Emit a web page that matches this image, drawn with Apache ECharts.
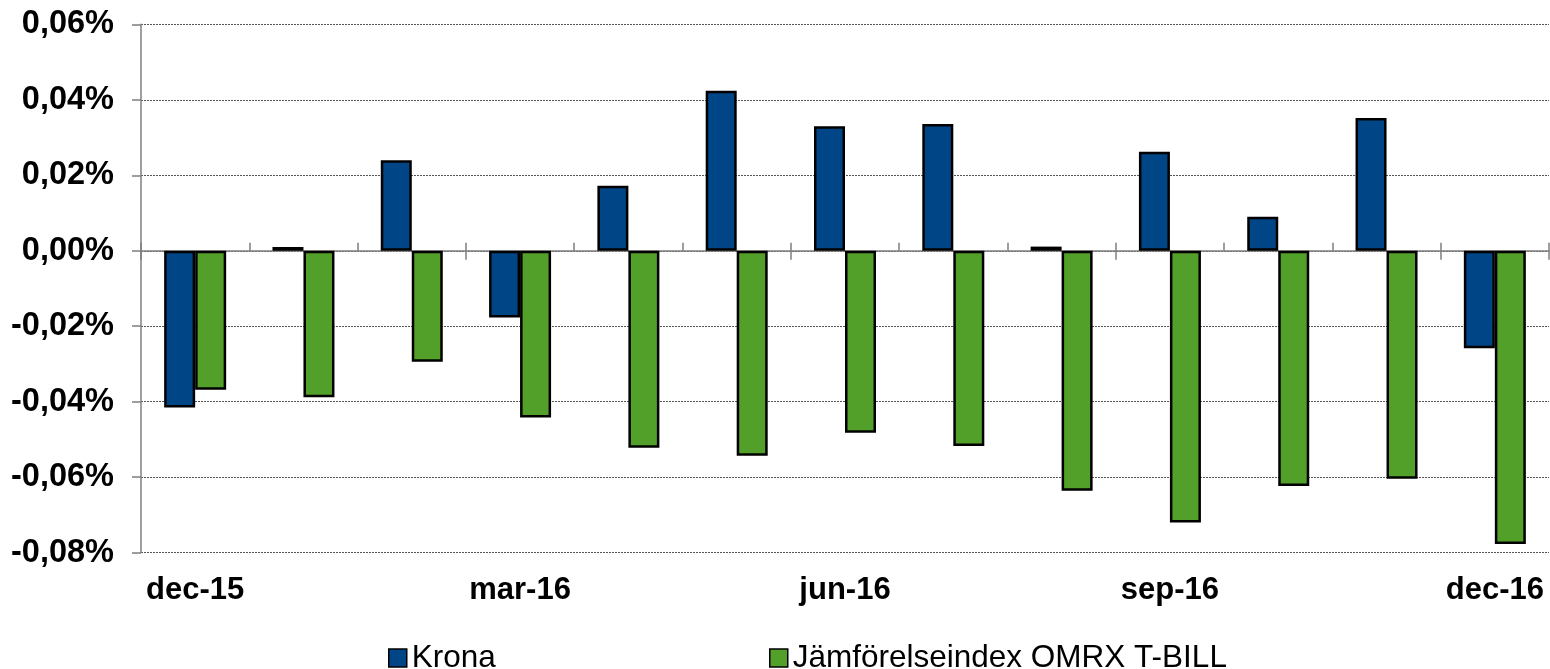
<!DOCTYPE html>
<html>
<head>
<meta charset="utf-8">
<script src="https://cdn.jsdelivr.net/npm/echarts/dist/echarts.min.js"></script>
<style>
html,body{margin:0;padding:0;background:#fff;}
#chart{width:1550px;height:669px;}
</style>
</head>
<body>
<div id="chart"></div>
<script>
var categories = ['dec-15','jan-16','feb-16','mar-16','apr-16','maj-16','jun-16','jul-16','aug-16','sep-16','okt-16','nov-16','dec-16'];
var krona = [-0.0415, 0.0010, 0.0240, -0.0177, 0.0172, 0.0424, 0.0330, 0.0336, 0.0011, 0.0262, 0.0090, 0.0352, -0.0258];
var omrx = [-0.0368, -0.0388, -0.0294, -0.0442, -0.0522, -0.0543, -0.0482, -0.0517, -0.0636, -0.0720, -0.0623, -0.0604, -0.0777];
var seriesNames = ['Krona', 'Jämförelseindex OMRX T-BILL'];
var yMin = -0.08, yMax = 0.06, yStep = 0.02;

var FONT = '"Liberation Sans", Arial, Helvetica, sans-serif';
var chart = echarts.init(document.getElementById('chart'), null, {renderer: 'canvas'});

function fmt(v) {
  var s = Math.abs(v) < 1e-9 ? '0,00' : v.toFixed(2).replace('.', ',');
  return s + '%';
}

var legendCommon = {
  top: 637,
  icon: 'rect', itemWidth: 18, itemHeight: 18,
  itemStyle: {borderColor: '#000', borderWidth: 1.5},
  textStyle: {fontFamily: FONT, fontSize: 31.5, color: '#000'}
};

var option = {
  backgroundColor: '#ffffff',
  animation: false,
  grid: {
    left: 141, right: 1, top: 24.3, bottom: 116.3,
    containLabel: false, outerBoundsMode: 'none'
  },
  legend: [
    Object.assign({data: [seriesNames[0]], left: 383}, legendCommon),
    Object.assign({data: [seriesNames[1]], left: 764}, legendCommon)
  ],
  xAxis: [
    {
      type: 'category', data: categories, position: 'bottom',
      axisLine: {show: false, onZero: false},
      axisTick: {show: false},
      axisLabel: {
        interval: 2, margin: 22,
        fontFamily: FONT, fontSize: 31, fontWeight: 'bold', color: '#000'
      },
      splitLine: {show: false}
    },
    {
      type: 'category', data: categories, position: 'bottom',
      axisLine: {show: true, onZero: true, onZeroAxisIndex: 0, lineStyle: {color: '#7f7f7f', width: 1.5}},
      axisTick: {show: true, inside: true, interval: 0, length: 8, lineStyle: {color: '#7f7f7f', width: 1.5}},
      axisLabel: {show: false},
      splitLine: {show: false}
    },
    {
      type: 'category', data: categories, position: 'bottom',
      axisLine: {show: true, onZero: true, onZeroAxisIndex: 1, lineStyle: {color: '#7f7f7f', width: 1, opacity: 0}},
      axisTick: {show: true, inside: false, interval: 2, length: 9, lineStyle: {color: '#7f7f7f', width: 1.5}},
      axisLabel: {show: false},
      splitLine: {show: false}
    }
  ],
  yAxis: [
    {
      type: 'value', min: yMin, max: yMax, interval: yStep, position: 'left',
      axisLine: {show: true, onZero: false, lineStyle: {color: '#7f7f7f', width: 1.5}},
      axisTick: {show: true, length: 9, lineStyle: {color: '#7f7f7f', width: 1.5}},
      axisLabel: {
        margin: 27, formatter: fmt,
        fontFamily: FONT, fontSize: 32.5, fontWeight: 'bold', color: '#000'
      },
      splitLine: {show: true, lineStyle: {color: '#555', width: 1, type: [2, 1]}}
    },
    {
      type: 'value', min: yMin, max: yMax, interval: yStep, position: 'left',
      axisLine: {show: false, onZero: false},
      axisTick: {show: false},
      axisLabel: {show: false},
      splitLine: {show: false}
    }
  ],
  series: [
    {
      name: seriesNames[0], type: 'bar', data: krona, xAxisIndex: 0, yAxisIndex: 0,
      barWidth: 31, barGap: '0%',
      itemStyle: {color: '#004586', borderColor: '#000', borderWidth: 2.5}
    },
    {
      name: seriesNames[1], type: 'bar', data: omrx, xAxisIndex: 0, yAxisIndex: 0,
      barWidth: 31, barGap: '0%',
      itemStyle: {color: '#52a02a', borderColor: '#000', borderWidth: 2.5}
    }
  ]
};
chart.setOption(option);
</script>
</body>
</html>
